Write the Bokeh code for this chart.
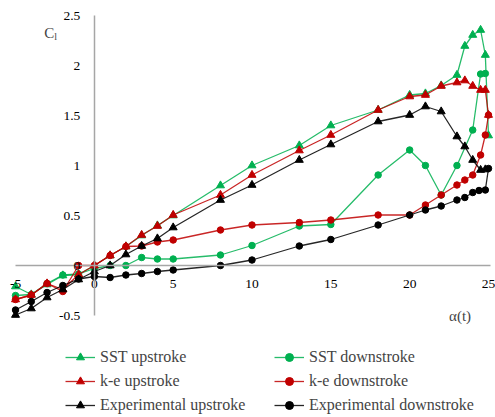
from bokeh.plotting import figure
from bokeh.models import Range1d, Label, Legend, LegendItem, FixedTicker
from bokeh.embed import file_html
from bokeh.resources import INLINE

# ---- data ----
x_ticks = [-5, 0, 5, 10, 15, 20, 25]
x_labels = ["-5", "0", "5", "10", "15", "20", "25"]
y_ticks = [-0.5, 0, 0.5, 1, 1.5, 2, 2.5]
y_labels = ["-0.5", "0", "0.5", "1", "1.5", "2", "2.5"]

sst_up_x = [-5, -4, -3, -2, -1, 0, 1, 2, 3, 4, 5, 8, 10, 13, 15, 18, 20, 21, 22, 23, 23.5, 24, 24.5, 24.8, 25]
sst_up_y = [-0.21, -0.29, -0.19, -0.1, -0.09, 0.0, 0.1, 0.19, 0.3, 0.4, 0.5, 0.8, 1.0, 1.2, 1.4, 1.555, 1.705, 1.72, 1.8, 1.905, 2.195, 2.305, 2.355, 2.105, 1.3]

sst_down_x = [24.8, 24.5, 24, 23, 22, 21, 20, 18, 15, 13, 10, 8, 5, 4, 3, 2, 1, 0, -1, -2, -3, -4, -5]
sst_down_y = [1.92, 1.915, 1.355, 1.0, 0.705, 1.0, 1.155, 0.905, 0.41, 0.395, 0.2, 0.105, 0.065, 0.065, 0.08, 0.0, 0.0, -0.03, -0.085, -0.095, -0.18, -0.29, -0.3]

ke_up_x = [-5, -4, -3, -2, -1, 0, 1, 2, 3, 4, 5, 8, 10, 13, 15, 18, 20, 21, 22, 23, 23.5, 24, 24.5, 24.8, 25]
ke_up_y = [-0.34, -0.295, -0.18, -0.24, -0.09, 0.0, 0.1, 0.19, 0.305, 0.395, 0.505, 0.705, 0.905, 1.15, 1.305, 1.555, 1.69, 1.705, 1.795, 1.83, 1.85, 1.795, 1.755, 1.755, 1.505]

ke_down_x = [25, 24.8, 24.5, 24, 23.5, 23, 22, 21, 20, 18, 15, 13, 10, 8, 5, 4, 3, 2, 1, 0, -1, -2, -3, -4, -5]
ke_down_y = [1.505, 1.305, 1.105, 0.905, 0.855, 0.805, 0.705, 0.605, 0.505, 0.505, 0.455, 0.43, 0.405, 0.355, 0.255, 0.235, 0.195, 0.19, 0.1, 0.0, 0.0, -0.26, -0.18, -0.295, -0.34]

exp_up_x = [-5, -4, -3, -2, -1, 0, 1, 2, 3, 4, 5, 8, 10, 13, 15, 18, 20, 21, 22, 23, 23.5, 24, 24.5, 24.8]
exp_up_y = [-0.495, -0.43, -0.32, -0.24, -0.14, -0.06, 0.0, 0.11, 0.195, 0.27, 0.38, 0.655, 0.805, 1.055, 1.21, 1.44, 1.505, 1.59, 1.54, 1.29, 1.19, 1.055, 0.955, 0.96]

exp_down_x = [25, 24.8, 24.4, 24, 23.5, 23, 22, 21, 20, 18, 15, 13, 10, 8, 5, 4, 3, 2, 1, 0, -1, -2, -3, -4, -5]
exp_down_y = [0.97, 0.755, 0.75, 0.73, 0.68, 0.655, 0.595, 0.555, 0.505, 0.405, 0.26, 0.195, 0.055, 0.0, -0.045, -0.06, -0.08, -0.095, -0.12, -0.11, -0.135, -0.2, -0.27, -0.36, -0.445]

GREEN = "#00B050"
RED = "#C00000"
BLACK = "#000000"
SERIF = "Liberation Serif"

# frame covers the whole canvas; the plotted region is -5..25 x -0.5..2.5,
# the strip below holds the legend
p = figure(width=495, height=417, output_backend="svg", toolbar_location=None,
           x_range=Range1d(-5.953, 25.445), y_range=Range1d(-1.52, 2.65),
           min_border_left=0, min_border_right=0, min_border_top=0,
           min_border_bottom=0)
p.outline_line_color = None
p.grid.visible = False

for ax in (p.xaxis[0], p.yaxis[0]):
    ax.fixed_location = 0
    ax.axis_line_color = "#A6A6A6"
    ax.axis_line_width = 1.5
    ax.major_tick_line_color = None
    ax.minor_tick_line_color = None
    ax.major_tick_out = 0
    ax.major_tick_in = 0
    ax.major_label_text_font = SERIF
    ax.major_label_text_font_size = "13.5px"
    ax.major_label_text_color = "#000000"

p.xaxis.ticker = FixedTicker(ticks=x_ticks)
p.xaxis.major_label_overrides = {t: s for t, s in zip(x_ticks, x_labels)}
p.xaxis.major_label_standoff = 14
p.xaxis.bounds = (-5, 25.1)
p.yaxis.ticker = FixedTicker(ticks=y_ticks)
p.yaxis.major_label_overrides = {t: s for t, s in zip(y_ticks, y_labels)}
p.yaxis.major_label_standoff = 14
p.yaxis.bounds = (-0.5, 2.5)

series = [
    ("SST upstroke", sst_up_x, sst_up_y, GREEN, "triangle"),
    ("SST downstroke", sst_down_x, sst_down_y, GREEN, "circle"),
    ("k-e upstroke", ke_up_x, ke_up_y, RED, "triangle"),
    ("k-e downstroke", ke_down_x, ke_down_y, RED, "circle"),
    ("Experimental upstroke", exp_up_x, exp_up_y, BLACK, "triangle"),
    ("Experimental downstroke", exp_down_x, exp_down_y, BLACK, "circle"),
]

items = {}
for name, xs, ys, col, mk in series:
    lr = p.line(xs, ys, line_color=col, line_width=1.3, line_alpha=0.85)
    sr = p.scatter(xs, ys, marker=mk, size=8 if mk == "triangle" else 6.5,
                   fill_color=col, line_color=col)
    items[name] = LegendItem(label=name, renderers=[lr, sr])

# legend fills column by column: left column = upstrokes, right = downstrokes
order = ["SST upstroke", "k-e upstroke", "Experimental upstroke",
         "SST downstroke", "k-e downstroke", "Experimental downstroke"]
legend = Legend(items=[items[n] for n in order], ncols=2, location=(65, 2),
                label_text_font=SERIF, label_text_font_size="16px",
                glyph_width=30, glyph_height=20, label_standoff=5,
                label_width=170, label_height=20, spacing=4,
                padding=0, margin=0, border_line_color=None,
                background_fill_alpha=0)
p.add_layout(legend)

p.add_layout(Label(x=-2.86, y=2.325, text="C", text_font=SERIF,
                   text_font_size="15px", text_align="center", text_baseline="middle"))
p.add_layout(Label(x=-2.45, y=2.29, text="l", text_font=SERIF,
                   text_font_size="10px", text_align="center", text_baseline="middle"))
p.add_layout(Label(x=23.2, y=-0.5, text="α(t)", text_font=SERIF,
                   text_font_size="15px", text_align="center", text_baseline="middle"))

open("out.html", "w").write(file_html(p, INLINE))
